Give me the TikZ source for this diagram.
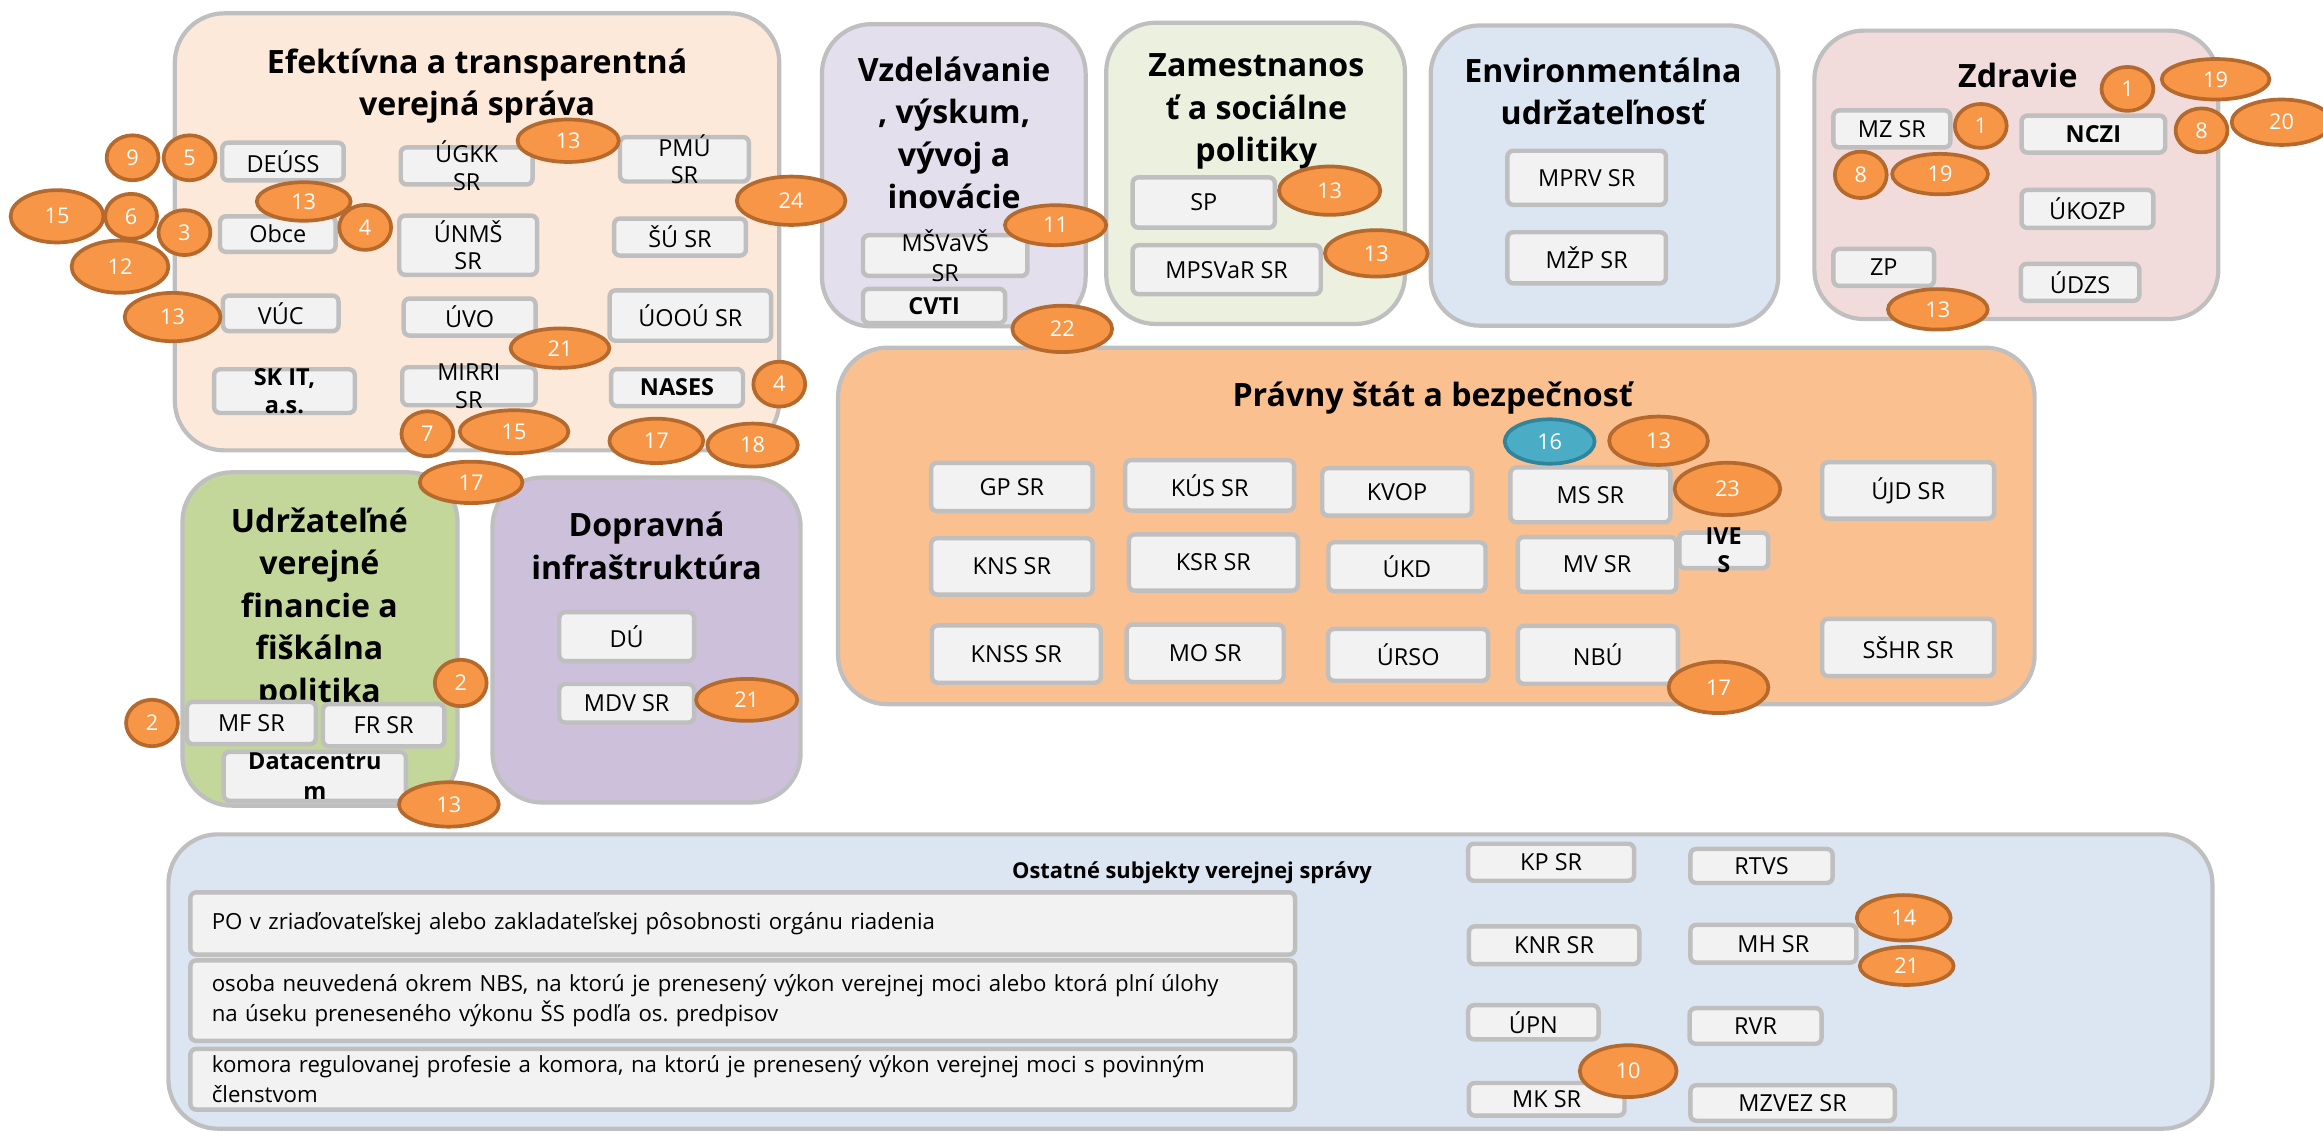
\documentclass[tikz,border=0pt]{standalone}
\usepackage{fontspec}
\setmainfont{Open Sans}
\usepackage{tikz}
\usetikzlibrary{shapes.geometric}
\usepackage{xcolor}
\definecolor{boxfill}{HTML}{F2F2F2}
\definecolor{boxline}{HTML}{BFBFBF}
\definecolor{bdgfill}{HTML}{F79646}
\definecolor{bdgline}{HTML}{B5692D}
\definecolor{bluefill}{HTML}{4BACC6}
\definecolor{blueline}{HTML}{31849B}
\definecolor{c1}{HTML}{FDE9D9}
\definecolor{c2}{HTML}{E4DFEC}
\definecolor{c3}{HTML}{EBF1DE}
\definecolor{c4}{HTML}{DCE6F2}
\definecolor{c5}{HTML}{F2DCDB}
\definecolor{c6}{HTML}{C4D79B}
\definecolor{c7}{HTML}{CCC0DA}
\definecolor{c8}{HTML}{FAC090}
\definecolor{c9}{HTML}{DCE6F2}

\begin{document}
\begin{tikzpicture}[x=0.3mm, y=-0.3mm,
  grp/.style={draw=boxline, line width=0.85mm, rounded corners=10mm, inner sep=0pt},
  ttl/.style={align=center, inner sep=0pt, font=\fontsize{18.5}{24.5}\selectfont\bfseries},
  box/.style={draw=boxline, fill=boxfill, line width=0.9mm, rounded corners=1.2mm, inner sep=0pt, font=\fontsize{13.5}{16}\selectfont},
  btxt/.style={align=center, inner sep=0pt, font=\fontsize{13.5}{16}\selectfont},
  long/.style={box, align=left, text width=215mm, inner xsep=4.35mm, inner ysep=1pt, font=\fontsize{12.8}{17}\selectfont},
  bdg/.style={ellipse, draw=bdgline, fill=bdgfill, line width=0.75mm, inner sep=0pt, text=white, font=\fontsize{12.5}{12.5}\selectfont, minimum width=20mm, minimum height=9mm},
  sbdg/.style={bdg, minimum width=10.5mm, minimum height=9.1mm}]
\useasboundingbox (0,0) rectangle (1568,764);

% oblasti
\node [grp, fill=c1, minimum width=122.4mm, minimum height=88.5mm] (c1) at (322,156.5) {};
\node [grp, fill=c2, minimum width=53.4mm, minimum height=61.2mm] (c2) at (643.8,118.3) {};
\node [grp, fill=c3, minimum width=60.5mm, minimum height=61mm] (c3) at (847.5,117) {};
\node [grp, fill=c4, minimum width=70.4mm, minimum height=60.8mm] (c4) at (1083,118.5) {};
\node [grp, fill=c5, minimum width=81.8mm, minimum height=58.4mm] (c5) at (1361,118) {};
\node [grp, fill=c6, minimum width=55.7mm, minimum height=67.5mm] (c6) at (216,431.3) {};
\node [grp, fill=c7, minimum width=62.4mm, minimum height=65.8mm] (c7) at (436.4,432) {};
\node [grp, fill=c8, minimum width=242.3mm, minimum height=72.2mm] (c8) at (969.5,355) {};
\node [grp, fill=c9, minimum width=413.9mm, minimum height=59.6mm] (c9) at (803.5,662.5) {};

\node [ttl] (t1) at (322,58) {Efektívna a transparentná\\verejná správa};
\node [ttl] (t2) at (644,89.7) {Vzdelávanie\\, výskum,\\vývoj a\\inovácie};
\node [ttl] (t3) at (848,75.2) {Zamestnanos\\ť a sociálne\\politiky};
\node [ttl] (t4) at (1082,61.7) {Environmentálna\\udržateľnosť};
\node [ttl] (t5) at (1362,50.6) {Zdravie};
\node [ttl] (t6) at (215.6,411) {Udržateľné\\verejné\\financie a\\fiškálna\\politika};
\node [ttl] (t7) at (436.4,368.5) {Dopravná\\infraštruktúra};
\node [ttl] (t8) at (967,268.7) {Právny štát a bezpečnosť};
\node [ttl, font=\fontsize{12.6}{14}\selectfont\bfseries] (t9) at (804.6,589.4) {Ostatné subjekty verejnej správy};

% subjekty
\node [box, minimum width=24.6mm, minimum height=7.65mm] (deuss) at (191,109) {DEÚSS};
\node [box, minimum width=26.7mm, minimum height=7.5mm, label={[btxt]center:{ÚGKK\\SR}}] (ugkk) at (315,112) {};
\node [box, minimum width=26.1mm, minimum height=9mm, label={[btxt]center:{PMÚ\\SR}}] (pmu) at (462,107.5) {};
\node [box, minimum width=23.4mm, minimum height=7.2mm] (obce) at (187.5,158) {Obce};
\node [box, minimum width=27.9mm, minimum height=12mm, label={[btxt]center:{ÚNMŠ\\SR}}] (unms) at (316,165.5) {};
\node [box, minimum width=26.7mm, minimum height=7.5mm] (su) at (459,160) {ŠÚ SR};
\node [box, minimum width=23.4mm, minimum height=7.2mm] (vuc) at (189.5,211.5) {VÚC};
\node [box, minimum width=26.7mm, minimum height=7.5mm] (uvo) at (317,214) {ÚVO};
\node [box, minimum width=32.7mm, minimum height=10.2mm] (uoou) at (466,213) {ÚOOÚ SR};
\node [box, minimum width=28.5mm, minimum height=8.85mm, label={[btxt, font=\fontsize{13.5}{16.3}\selectfont\bfseries]center:{SK IT,\\a.s.}}] (skit) at (192,264) {};
\node [box, minimum width=27mm, minimum height=7.7mm, label={[btxt]center:{MIRRI\\SR}}] (mirri) at (316.5,260.7) {};
\node [box, minimum width=26.7mm, minimum height=7.5mm] (nases) at (457,261.6) {\bfseries NASES};

\node [box, minimum width=33.3mm, minimum height=8.25mm, label={[btxt, font=\fontsize{13.5}{17.5}\selectfont]center:{MŠVaVŠ\\SR}}] (msvvs) at (638,172.5) {};
\node [box, minimum width=28.8mm, minimum height=6.9mm] (cvti) at (630.5,206.5) {\bfseries CVTI};

\node [box, minimum width=28.8mm, minimum height=10.2mm] (sp) at (812.5,136.7) {SP};
\node [box, minimum width=38.1mm, minimum height=9.9mm] (mpsvr) at (828,182) {MPSVaR SR};

\node [box, minimum width=32.1mm, minimum height=10.95mm] (mprv) at (1071,120) {MPRV SR};
\node [box, minimum width=32.1mm, minimum height=10.35mm] (mzp) at (1071,174) {MŽP SR};

\node [box, minimum width=23.7mm, minimum height=7.5mm] (mz) at (1277,87) {MZ SR};
\node [box, minimum width=29.1mm, minimum height=7.5mm] (nczi) at (1413,90.5) {\bfseries NCZI};
\node [box, minimum width=26.7mm, minimum height=7.7mm] (ukozp) at (1409,141) {ÚKOZP};
\node [box, minimum width=20.4mm, minimum height=7.5mm] (zp) at (1271.5,180.5) {ZP};
\node [box, minimum width=24mm, minimum height=7.5mm] (udzs) at (1404,190.6) {ÚDZS};

\node [box, minimum width=26.1mm, minimum height=8.55mm] (mf) at (169.7,488) {MF SR};
\node [box, minimum width=24.6mm, minimum height=8.55mm] (fr) at (259,489.5) {FR SR};
\node [box, minimum width=36.9mm, minimum height=9.9mm, label={[btxt, font=\fontsize{13.5}{17.5}\selectfont\bfseries]center:{Datacentru\\m}}] (dc) at (212.5,524) {};

\node [box, minimum width=27.3mm, minimum height=9.9mm] (du) at (423,429.7) {DÚ};
\node [box, minimum width=27.3mm, minimum height=7.8mm] (mdv) at (423,474.7) {MDV SR};

\node [box, minimum width=32.7mm, minimum height=9.75mm] (gp) at (683,328.7) {GP SR};
\node [box, minimum width=34.2mm, minimum height=10.2mm] (kus) at (816.5,327.6) {KÚS SR};
\node [box, minimum width=30.3mm, minimum height=9.6mm] (kvop) at (943,332) {KVOP};
\node [box, minimum width=32.4mm, minimum height=11.1mm] (ms) at (1073.5,334) {MS SR};
\node [box, minimum width=34.8mm, minimum height=11.4mm] (ujd) at (1288,331) {ÚJD SR};
\node [box, minimum width=32.7mm, minimum height=11.4mm] (kns) at (683,382.3) {KNS SR};
\node [box, minimum width=34.2mm, minimum height=11.4mm] (ksr) at (819,379.7) {KSR SR};
\node [box, minimum width=31.8mm, minimum height=9.9mm] (ukd) at (949.7,382.5) {ÚKD};
\node [box, minimum width=32.1mm, minimum height=11.1mm] (mv) at (1078,381) {MV SR};
\node [box, minimum width=18mm, minimum height=7.2mm, label={[btxt, font=\fontsize{13.5}{16.3}\selectfont\bfseries]center:{IVE\\S}}] (ives) at (1163.5,371.5) {};
\node [box, minimum width=34.2mm, minimum height=11.6mm] (knss) at (686,441.5) {KNSS SR};
\node [box, minimum width=31.8mm, minimum height=11.6mm] (mo) at (813.5,441) {MO SR};
\node [box, minimum width=32.4mm, minimum height=10.5mm] (urso) at (950.5,442) {ÚRSO};
\node [box, minimum width=32.4mm, minimum height=11.7mm] (nbu) at (1078.5,442) {NBÚ};
\node [box, minimum width=34.8mm, minimum height=11.6mm] (sshr) at (1288,437) {SŠHR SR};

\node [long, minimum height=12.6mm] (po) at (501.3,623.3) {PO v zriaďovateľskej alebo zakladateľskej pôsobnosti orgánu riadenia};
\node [long, minimum height=16.3mm] (osoba) at (501.3,675.4) {osoba neuvedená okrem NBS, na ktorú je prenesený výkon verejnej moci alebo ktorá plní úlohy\\na úseku preneseného výkonu ŠS podľa os.\ predpisov};
\node [long, minimum height=12.3mm] (komora) at (501.3,728.5) {komora regulovanej profesie a komora, na ktorú je prenesený výkon verejnej moci s povinným\\členstvom};
\node [box, minimum width=33.6mm, minimum height=7.5mm] (kp) at (1047,582) {KP SR};
\node [box, minimum width=28.8mm, minimum height=6.9mm] (rtvs) at (1189,584.5) {RTVS};
\node [box, minimum width=34.5mm, minimum height=7.65mm] (knr) at (1049,638) {KNR SR};
\node [box, minimum width=33.6mm, minimum height=7.65mm] (mh) at (1197,637) {MH SR};
\node [box, minimum width=26.4mm, minimum height=6.9mm] (upn) at (1035,690) {ÚPN};
\node [box, minimum width=26.7mm, minimum height=7.2mm] (rvr) at (1185,692.5) {RVR};
\node [box, minimum width=31.5mm, minimum height=6.6mm] (mk) at (1044,742) {MK SR};
\node [box, minimum width=41.4mm, minimum height=7.2mm] (mzvez) at (1210,744.5) {MZVEZ SR};

% cisla
\node [sbdg] (n9) at (89.5,106.5) {9};
\node [sbdg] (n5) at (128,106.5) {5};
\node [bdg, minimum width=20.5mm, minimum height=8.6mm] (n13a) at (383.5,95) {13};
\node [sbdg] (n4a) at (246.5,153.5) {4};
\node [bdg, minimum width=19mm, minimum height=7.8mm] (n13b) at (205,136) {13};
\node [bdg, minimum width=18.8mm, minimum height=10.6mm] (n15a) at (38.5,146) {15};
\node [bdg, minimum width=19.6mm, minimum height=10.6mm] (n12) at (81,180) {12};
\node [sbdg] (n6) at (88.5,146) {6};
\node [sbdg] (n3) at (124.5,157) {3};
\node [bdg, minimum width=22mm, minimum height=9.8mm] (n24) at (534,135.5) {24};
\node [bdg, minimum width=19.4mm, minimum height=9.8mm] (n13c) at (116.5,214) {13};
\node [bdg, minimum height=8mm] (n21a) at (378,235) {21};
\node [sbdg] (n4b) at (526,259.3) {4};
\node [sbdg] (n7) at (288.5,292.8) {7};
\node [bdg, minimum width=22mm, minimum height=8.7mm] (n15b) at (347,291.4) {15};
\node [bdg, minimum width=19mm] (n17a) at (443,297.6) {17};
\node [bdg, minimum width=18.3mm, minimum height=8.7mm] (n18) at (508,300.4) {18};
\node [bdg, minimum width=20.8mm, minimum height=8.4mm] (n17b) at (318,325.6) {17};

\node [bdg, minimum width=20.5mm, minimum height=8.1mm] (n11) at (712.5,152) {11};
\node [bdg, minimum width=20.2mm, minimum height=9.4mm] (n22) at (717,222) {22};
\node [bdg, minimum width=20.5mm, minimum height=9.8mm] (n13d) at (897.5,128.7) {13};
\node [bdg, minimum width=20.8mm, minimum height=9.4mm] (n13e) at (929,171) {13};

\node [sbdg, minimum height=8.9mm] (n1a) at (1436,60) {1};
\node [bdg, minimum width=21.8mm, minimum height=8.2mm] (n19a) at (1495.5,53.5) {19};
\node [sbdg, minimum height=8.9mm] (n1b) at (1337,85) {1};
\node [sbdg, minimum height=8.9mm] (n8a) at (1486,88) {8};
\node [bdg, minimum width=20.2mm, minimum height=9.2mm] (n20) at (1540,82.5) {20};
\node [sbdg, minimum height=9.4mm] (n8b) at (1256,118) {8};
\node [bdg, minimum width=19.4mm, minimum height=8.2mm] (n19b) at (1309.5,117.5) {19};
\node [bdg, minimum width=20.2mm, minimum height=8.2mm] (n13f) at (1308,208.8) {13};

\node [sbdg, minimum height=9.4mm] (n2a) at (311,461) {2};
\node [sbdg, minimum height=9.4mm] (n2b) at (102.6,488) {2};
\node [bdg, minimum width=20.2mm] (n13g) at (303,543) {13};
\node [bdg, minimum width=20.5mm, minimum height=8.5mm] (n21b) at (504,472.4) {21};

\node [bdg, draw=blueline, fill=bluefill, minimum width=18.2mm] (n16) at (1046,298) {16};
\node [bdg, minimum height=9.8mm] (n13h) at (1119.5,297.5) {13};
\node [bdg, minimum width=21.4mm, minimum height=10.6mm] (n23) at (1166,330) {23};
\node [bdg, minimum width=20.2mm, minimum height=10.4mm] (n17c) at (1160,464) {17};

\node [bdg, minimum width=19mm, minimum height=9.2mm] (n14) at (1285,619.5) {14};
\node [bdg, minimum width=19mm, minimum height=7.7mm] (n21c) at (1287,652) {21};
\node [bdg, minimum width=19.6mm, minimum height=10.5mm] (n10) at (1099,723) {10};
\end{tikzpicture}
\end{document}
